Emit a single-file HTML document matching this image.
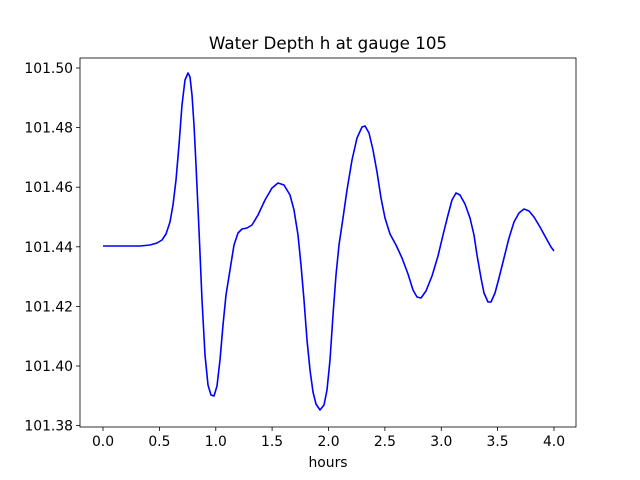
<!DOCTYPE html>
<html><head><meta charset="utf-8"><style>body{margin:0;background:#fff}svg{display:block}text{font-family:"DejaVu Sans","Liberation Sans",sans-serif}</style></head><body>
<svg width="640" height="480" xmlns="http://www.w3.org/2000/svg">
<rect width="640" height="480" fill="#fff"/>
<text x="328" y="49" font-size="16.7" text-anchor="middle">Water Depth h at gauge 105</text>
<polyline fill="none" stroke="#0000ff" stroke-width="1.6" stroke-linejoin="round" points="103,246 140,246 150,245 157,243 162,240 166,234 170,222 173,205 176,180 179,145 182,105 185,80 188,73 190,77 192,95 194,125 196,165 199,230 202,300 205,355 208,385 211,395 214,396 217,386 220,360 223,325 226,295 230,270 234,245 238,233 242,229 247,228 252,225 258,215 265,200 272,188 278,183 284,185 290,195 294,210 298,235 301,265 304,300 307,340 310,370 313,392 316,404 320,410 324,405 327,390 330,360 333,315 336,275 339,245 343,218 347,190 352,160 357,138 362,127 365,126 369,133 373,150 377,172 381,198 385,218 390,234 396,245 402,258 408,274 413,290 417,297 421,298 426,291 432,276 438,256 443,235 448,215 452,200 456,193 460,195 465,204 470,218 474,235 477,255 481,278 484,293 488,302 491,302 495,293 499,278 504,258 509,238 514,222 519,213 524,209 529,211 534,217 540,227 546,238 551,247 554,251"/>
<rect x="80" y="58" width="496" height="369" fill="none" stroke="#000" stroke-width="0.8"/>
<g stroke="#000" stroke-width="0.8">
<line x1="103" y1="427" x2="103" y2="431"/><line x1="159.4" y1="427" x2="159.4" y2="431"/><line x1="215.8" y1="427" x2="215.8" y2="431"/><line x1="272.1" y1="427" x2="272.1" y2="431"/><line x1="328.5" y1="427" x2="328.5" y2="431"/><line x1="384.9" y1="427" x2="384.9" y2="431"/><line x1="441.3" y1="427" x2="441.3" y2="431"/><line x1="497.6" y1="427" x2="497.6" y2="431"/><line x1="554" y1="427" x2="554" y2="431"/>
<line x1="76" y1="68" x2="80" y2="68"/><line x1="76" y1="127.6" x2="80" y2="127.6"/><line x1="76" y1="187.2" x2="80" y2="187.2"/><line x1="76" y1="246.8" x2="80" y2="246.8"/><line x1="76" y1="306.4" x2="80" y2="306.4"/><line x1="76" y1="366" x2="80" y2="366"/><line x1="76" y1="425.6" x2="80" y2="425.6"/>
</g>
<g font-size="13.9" text-anchor="middle">
<text x="103" y="446">0.0</text><text x="159.4" y="446">0.5</text><text x="215.8" y="446">1.0</text><text x="272.1" y="446">1.5</text><text x="328.5" y="446">2.0</text><text x="384.9" y="446">2.5</text><text x="441.3" y="446">3.0</text><text x="497.6" y="446">3.5</text><text x="554" y="446">4.0</text>
<text x="328" y="467">hours</text>
</g>
<g font-size="13.9" text-anchor="end">
<text x="73" y="73">101.50</text><text x="73" y="132.6">101.48</text><text x="73" y="192.2">101.46</text><text x="73" y="251.8">101.44</text><text x="73" y="311.4">101.42</text><text x="73" y="371">101.40</text><text x="73" y="430.6">101.38</text>
</g>
</svg>
</body></html>
